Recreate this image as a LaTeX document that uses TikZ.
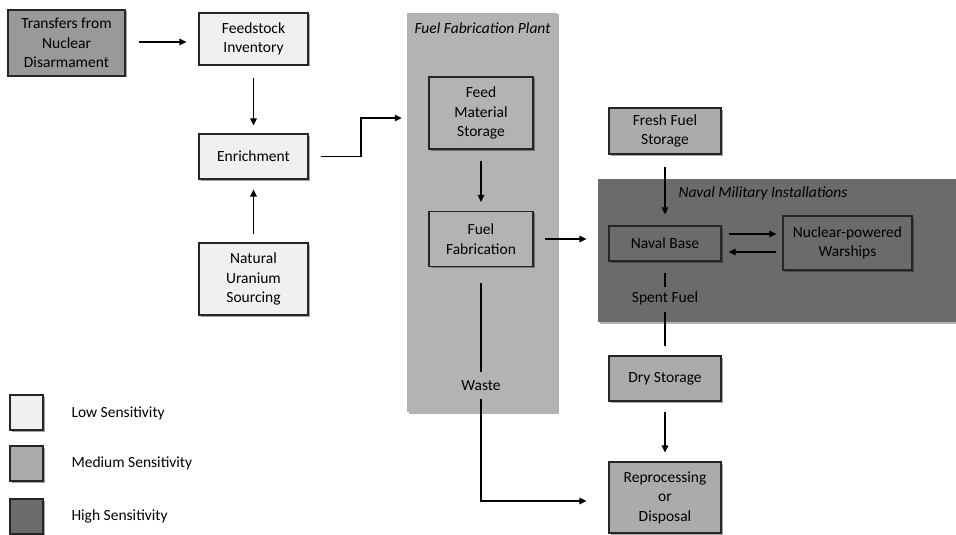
\documentclass[tikz,border=0pt]{standalone}
\usepackage{fontspec}
\setmainfont{Carlito}
\usetikzlibrary{arrows.meta,shadows}
\definecolor{lowc}{HTML}{F0F0F0}
\definecolor{medc}{HTML}{ABABAB}
\definecolor{plantc}{HTML}{B3B3B3}
\definecolor{transc}{HTML}{999999}
\definecolor{highc}{HTML}{6B6B6B}
\definecolor{edgec}{HTML}{262626}
\begin{document}
\begin{tikzpicture}[x=1pt,y=-1pt,
  every node/.style={font=\fontsize{15.5}{19.5}\selectfont, text=black},
  box/.style={draw=edgec, line width=1.2pt, align=center, inner sep=0pt,
    drop shadow={shadow xshift=1.5pt, shadow yshift=-1.5pt, opacity=0.35, fill=black}},
  region/.style={inner sep=0pt, draw=none,
    drop shadow={shadow xshift=1.5pt, shadow yshift=-1.5pt, opacity=0.3, fill=black}},
  arr/.style={line width=1.3pt, -{Triangle[length=7pt,width=6.5pt]}},
  ln/.style={line width=1.3pt},
  lbl/.style={inner sep=2pt}
]
\useasboundingbox (0,0) rectangle (956,535);

% regions
\node[region, fill=plantc, minimum width=150pt, minimum height=399pt] (plant) at (482,212.5) {};
\node[anchor=west, font=\fontsize{15.5}{19.5}\selectfont\itshape] (plantt) at (411,28) {Fuel Fabrication Plant};
\node[region, fill=highc, minimum width=358pt, minimum height=143pt] (naval) at (777,250.5) {};
\node[font=\fontsize{15.5}{19.5}\selectfont\itshape] (navalt) at (763,193) {Naval Military Installations};

% boxes
\node[box, fill=transc, minimum width=117pt, minimum height=66pt] (trans) at (66.5,43) {Transfers from\\Nuclear\\Disarmament};
\node[box, fill=lowc, minimum width=109pt, minimum height=52pt] (feed) at (253.5,39) {Feedstock\\Inventory};
\node[box, fill=lowc, minimum width=109pt, minimum height=45pt] (enr) at (253.5,156.5) {Enrichment};
\node[box, fill=lowc, minimum width=109pt, minimum height=72pt] (nat) at (253.5,279) {Natural\\Uranium\\Sourcing};
\node[box, fill=plantc, minimum width=104pt, minimum height=72pt] (fms) at (481,113) {Feed\\Material\\Storage};
\node[box, fill=plantc, minimum width=104pt, minimum height=55pt] (ffab) at (481,239) {Fuel\\Fabrication};
\node[box, fill=medc, minimum width=112pt, minimum height=46pt] (fresh) at (665,131) {Fresh Fuel\\Storage};
\node[box, fill=highc, minimum width=112pt, minimum height=35pt] (nbase) at (665,243.5) {Naval Base};
\node[box, fill=highc, minimum width=129pt, minimum height=54pt] (war) at (847.5,243) {Nuclear-powered\\Warships};
\node[box, fill=medc, minimum width=112pt, minimum height=45pt] (dry) at (665,378.5) {Dry Storage};
\node[box, fill=medc, minimum width=112pt, minimum height=71pt] (repro) at (665,497.5) {Reprocessing\\or\\Disposal};
\node[lbl] (spent) at (665,298) {Spent Fuel};
\node[lbl] (waste) at (481,386) {Waste};

% connectors
\draw[arr, shorten <=13pt, shorten >=12pt] (trans.east |- 0,42) -- (feed.west |- 0,42);
\draw[arr, shorten <=12pt, shorten >=8pt] (feed.south) -- (enr.north);
\draw[arr, shorten <=8pt, shorten >=10pt] (nat.north) -- (enr.south);
\draw[arr, shorten <=12pt, shorten >=5pt] (enr.east) -| (361,118) -- (plant.west |- 0,118);
\draw[arr, shorten <=11pt, shorten >=9pt] (fms.south) -- (ffab.north);
\draw[arr, shorten <=11pt, shorten >=22pt] (ffab.east) -- (ffab.east -| nbase.west);
\draw[arr, shorten <=12pt, shorten >=11pt] (fresh.south) -- (nbase.north);
\draw[arr, shorten <=7pt, shorten >=6pt] ([yshift=9.5pt]nbase.east) -- ([yshift=9.5pt]nbase.east -| war.west);
\draw[arr, shorten <=6pt, shorten >=7pt] ([yshift=-8.5pt]nbase.east -| war.west) -- ([yshift=-8.5pt]nbase.east);
\draw[ln, shorten <=11pt, shorten >=2pt] (nbase.south) -- (spent.north);
\draw[ln, shorten <=5pt, shorten >=9pt] (spent.south) -- (dry.north);
\draw[arr, shorten <=10pt, shorten >=9pt] (dry.south) -- (repro.north);
\draw[ln, shorten <=16pt, shorten >=7pt] (ffab.south) -- (waste.north);
\draw[arr, shorten <=6pt, shorten >=22pt] (waste.south) |- ([yshift=-3.5pt]repro.west);

% legend
\node[box, fill=lowc, minimum width=33pt, minimum height=35pt] (lowk) at (26.5,412.5) {};
\node[box, fill=medc, minimum width=33pt, minimum height=35pt] (medk) at (26.5,463.5) {};
\node[box, fill=highc, minimum width=33pt, minimum height=35pt] (highk) at (26.5,516.5) {};
\node[anchor=west] (lowt) at (68,413) {Low Sensitivity};
\node[anchor=west] (medt) at (68,463) {Medium Sensitivity};
\node[anchor=west] (hight) at (68,516) {High Sensitivity};
\end{tikzpicture}
\end{document}
